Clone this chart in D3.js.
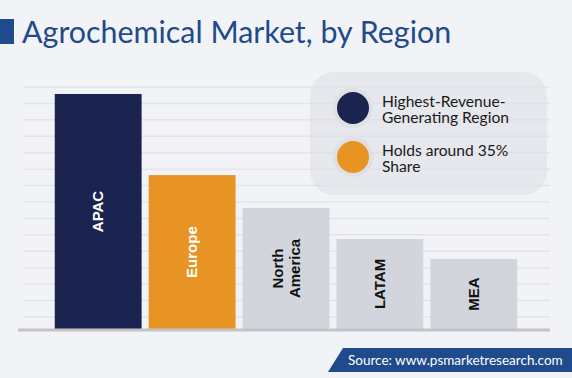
<!DOCTYPE html>
<html>
<head>
<meta charset="utf-8">
<script src="https://cdn.jsdelivr.net/npm/d3@7"></script>
<style>
  body { margin: 0; background: #f2f3f7; }
  svg { display: block; }
</style>
</head>
<body>
<div id="chart"></div>
<script>
// regions and relative market size (index, APAC = 100)
const regions = ['APAC', 'Europe', 'North America', 'LATAM', 'MEA']
const values = [100, 65.5, 51.5, 38.3, 29.8]
const barColors = ['#1b2350', '#e89425', '#d3d5dc', '#d3d5dc', '#d3d5dc']
const labelColors = ['#ffffff', '#ffffff', '#111111', '#111111', '#111111']
const legendItems = [
    { color: '#1b2350', lines: ['Highest-Revenue-', 'Generating Region'] },
    { color: '#e89425', lines: ['Holds around 35%', 'Share'] }
]
const titleText = 'Agrochemical Market, by Region'
const sourceText = 'Source: www.psmarketresearch.com'

const width = 572, height = 378
const svg = d3.select('#chart').append('svg')
    .attr('width', width)
    .attr('height', height)

svg.append('rect')
    .attr('width', width)
    .attr('height', height)
    .attr('fill', '#f2f3f7')

// title
svg.append('rect')
    .attr('x', 0).attr('y', 19)
    .attr('width', 14).attr('height', 25)
    .attr('fill', '#1f4a8c')
svg.append('text')
    .attr('x', 22).attr('y', 43)
    .attr('font-family', 'Lato, sans-serif')
    .attr('font-size', 30.4)
    .attr('fill', '#1f4a8c')
    .text(titleText)

const xScale = d3.scaleBand()
    .domain(regions)
    .range([51, 521])
    .paddingInner(0.075)
    .paddingOuter(0.04)

const yScale = d3.scaleLinear()
    .domain([0, 100])
    .range([329, 94])

// grid lines
const gridY = d3.range(317, 84, -16.43)
svg.append('g')
    .selectAll('line')
    .data(gridY)
    .join('line')
    .attr('x1', 24).attr('x2', 550)
    .attr('y1', d => d).attr('y2', d => d)
    .attr('stroke', '#e3e4e9')
    .attr('stroke-width', 1.5)

// legend box (lets the grid show through a little)
const legend = svg.append('g')
legend.append('rect')
    .attr('x', 310).attr('y', 72)
    .attr('width', 237).attr('height', 123)
    .attr('rx', 24)
    .attr('fill', '#dcdde3')
    .attr('fill-opacity', 0.5)

legendItems.forEach((item, i) => {
    const cy = 108 + i * 49
    legend.append('circle')
        .attr('cx', 353).attr('cy', cy).attr('r', 20)
        .attr('fill', '#dfe0e4')
    legend.append('circle')
        .attr('cx', 353).attr('cy', cy).attr('r', 16)
        .attr('fill', item.color)
    const t = legend.append('text')
        .attr('x', 382)
        .attr('y', cy - 1.5)
        .attr('font-family', 'Lato, sans-serif')
        .attr('font-size', 15.6)
        .attr('fill', '#1a1a1a')
    item.lines.forEach((line, j) => {
        t.append('tspan')
            .attr('x', 382)
            .attr('dy', j === 0 ? 0 : 16.5)
            .text(line)
    })
})

// bars
const bars = svg.append('g')
bars.selectAll('rect')
    .data(regions)
    .join('rect')
    .attr('x', d => xScale(d))
    .attr('y', (d, i) => yScale(values[i]))
    .attr('width', xScale.bandwidth())
    .attr('height', (d, i) => yScale(0) - yScale(values[i]))
    .attr('fill', (d, i) => barColors[i])

// bar labels, rotated
regions.forEach((region, i) => {
    const cx = xScale(region) + xScale.bandwidth() / 2
    const cy = (yScale(values[i]) + yScale(0)) / 2
    const words = region.split(' ')
    const t = bars.append('text')
        .attr('transform', `translate(${cx},${cy}) rotate(-90)`)
        .attr('text-anchor', 'middle')
        .attr('font-family', 'Liberation Sans, Arial, sans-serif')
        .attr('font-weight', 'bold')
        .attr('font-size', 15)
        .attr('fill', labelColors[i])
    words.forEach((w, j) => {
        t.append('tspan')
            .attr('x', 0)
            .attr('y', 5 + (j - (words.length - 1) / 2) * 17)
            .text(w)
    })
})

// baseline
svg.append('line')
    .attr('x1', 18).attr('x2', 550)
    .attr('y1', 330).attr('y2', 330)
    .attr('stroke', '#c4c4c8')
    .attr('stroke-width', 3)

// source banner
svg.append('path')
    .attr('d', 'M343,348 L572,348 L572,372 L328,372 Z')
    .attr('fill', '#1f4a8c')
svg.append('text')
    .attr('x', 348).attr('y', 365)
    .attr('font-family', 'Lato, sans-serif')
    .attr('font-size', 13.5)
    .attr('fill', '#ffffff')
    .text(sourceText)
</script>
</body>
</html>
